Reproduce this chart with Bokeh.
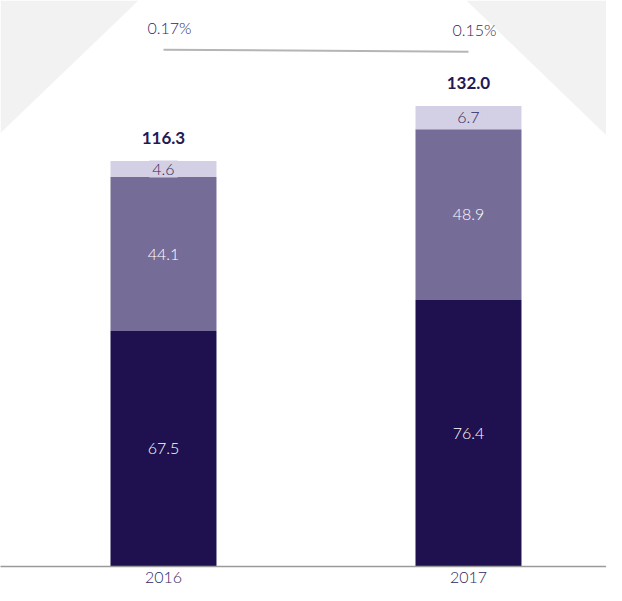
from bokeh.plotting import figure
from bokeh.models import Range1d, FixedTicker, ColumnDataSource
from bokeh.core.properties import value
from bokeh.embed import file_html
from bokeh.resources import INLINE

# ---- data ----
years = ["2016", "2017"]
segments = ["base", "middle", "top"]
base = [67.5, 76.4]
middle = [44.1, 48.9]
top = [4.6, 6.7]
totals = [116.3, 132.0]
ratio = [0.17, 0.15]
ratio_labels = ["0.17%", "0.15%"]

# ---- style ----
DARK = "#1f1150"
MID = "#766c98"
LIGHT = "#d3cfe4"
TXT = "#2e2862"
GREY_BG = "#f2f2f2"
FONT = "'Lato Light', Lato"

xs = [i + 0.5 for i in range(len(years))]

x_range = Range1d(-0.0344, 1.9525)
y_range = Range1d(0, 162.2)

p = figure(width=606, height=585, x_range=x_range, y_range=y_range,
           output_backend="svg", toolbar_location=None,
           y_axis_location=None, min_border=0,
           min_border_left=0, min_border_right=0, min_border_top=0)
p.outline_line_color = None
p.background_fill_color = "white"
p.border_fill_color = "white"
p.xgrid.visible = False
p.ygrid.visible = False

# background corner triangles (decoration, relative to the ranges)
x0, x1 = x_range.start, x_range.end
ytop = y_range.end
p.patch([x0, 0.418, x0], [ytop, ytop, 124.2], color=GREY_BG, line_color=None)
p.patch([1.4934, x1, x1], [ytop, ytop, 123.5], color=GREY_BG, line_color=None)

# stacked bars
src = ColumnDataSource(dict(x=xs, base=base, middle=middle, top=top))
p.vbar_stack(segments, x="x", width=0.3475, color=[DARK, MID, LIGHT],
             line_color=None, source=src)

# segment labels
lab_x, lab_y, lab_t = [], [], []
for i in range(len(years)):
    b = base[i]
    m = middle[i]
    lab_x += [xs[i], xs[i]]
    lab_y += [b / 2, b + m / 2]
    lab_t += [f"{b:.1f}", f"{m:.1f}"]
p.text(x=lab_x, y=lab_y, text=lab_t, text_align="center",
       text_baseline="middle", text_color="#ffffff",
       text_font=value(FONT), text_font_size="16px")

top_y = [base[i] + middle[i] + top[i] / 2 for i in range(len(years))]
p.text(x=xs, y=top_y, text=[f"{t:.1f}" for t in top], text_align="center",
       text_baseline="middle", text_color=TXT,
       text_font=value(FONT), text_font_size="16px",
       background_fill_color=LIGHT, padding=3)

# totals
p.text(x=xs, y=totals, text=[f"{t:.1f}" for t in totals], text_align="center",
       text_baseline="middle", text_color="#231955", text_font_style="bold",
       text_font=value("Lato"), text_font_size="17px", y_offset=-23)

# ratio line on a secondary range
p.extra_y_ranges = {"pct": Range1d(-4.98, 0.66)}
p.line(xs, ratio, y_range_name="pct", line_color="#b5b5b5", line_width=2)
p.text(x=xs, y=ratio, text=ratio_labels, y_range_name="pct",
       text_align="center", text_baseline="middle", text_color=TXT,
       text_font=value(FONT), text_font_size="16px", y_offset=-22, x_offset=6)

# x axis
ax = p.xaxis[0]
ax.ticker = FixedTicker(ticks=xs)
ax.major_label_overrides = {x: y for x, y in zip(xs, years)}
ax.axis_line_color = "#9a9a9a"
ax.axis_line_width = 1.5
ax.major_tick_line_color = None
ax.minor_tick_line_color = None
ax.major_tick_out = 0
ax.major_tick_in = 0
ax.minor_tick_out = 0
ax.minor_tick_in = 0
ax.major_label_text_font = FONT
ax.major_label_text_font_size = "16px"
ax.major_label_text_color = TXT
ax.major_label_standoff = 5

open("out.html", "w").write(file_html(p, INLINE))
